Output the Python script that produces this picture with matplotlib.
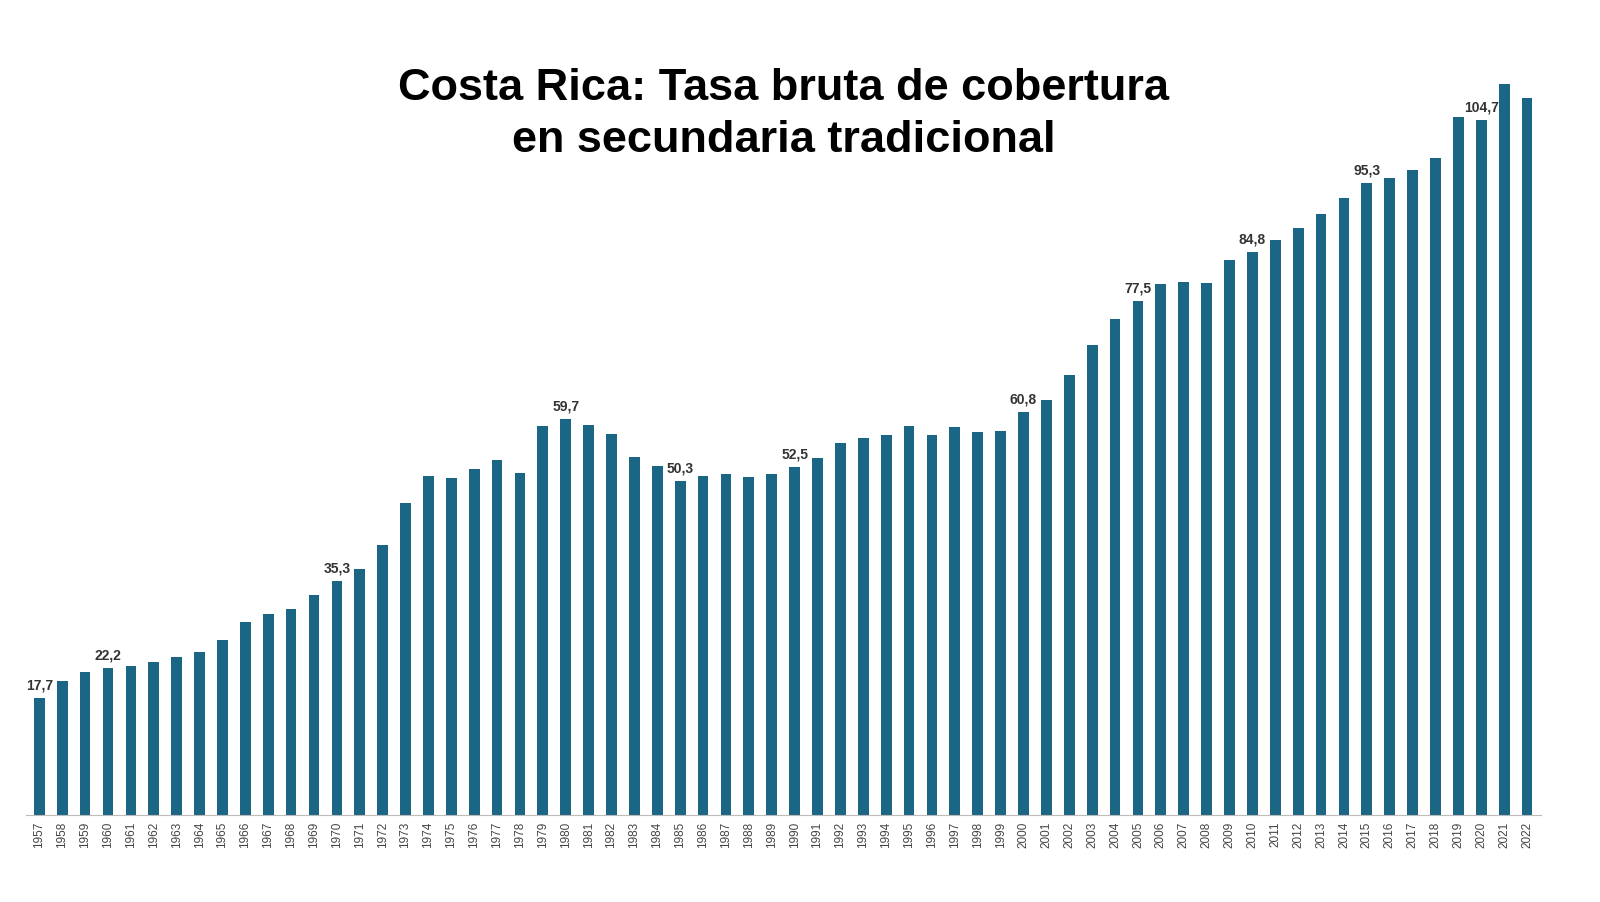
import matplotlib
matplotlib.use("Agg")
import matplotlib.pyplot as plt

years = list(range(1957, 2023))
values = [17.7, 20.2, 21.6, 22.2, 22.5, 23.1, 23.8, 24.6, 26.4, 29.1, 30.3, 31.1, 33.2, 35.3, 37.1, 40.7,
          47.1, 51.1, 50.8, 52.2, 53.5, 51.6, 58.7, 59.7, 58.8, 57.5, 54.0, 52.6, 50.3, 51.1, 51.4, 51.0,
          51.4, 52.5, 53.8, 56.1, 56.9, 57.3, 58.7, 57.3, 58.5, 57.8, 57.9, 60.8, 62.6, 66.4, 70.9, 74.8,
          77.5, 80.0, 80.4, 80.2, 83.6, 84.8, 86.7, 88.5, 90.6, 93.0, 95.3, 96.0, 97.2, 99.0, 105.2, 104.7,
          110.2, 108.0]
labeled = [1957, 1960, 1970, 1980, 1985, 1990, 2000, 2005, 2010, 2015, 2020]
title = "Costa Rica: Tasa bruta de cobertura\nen secundaria tradicional"

plt.rcParams['font.family'] = ['Liberation Sans', 'DejaVu Sans']
fig = plt.figure(figsize=(16, 9.03), dpi=100)
ax = fig.add_axes([0.016, 0.096, 0.947, 0.838])
x = list(range(len(years)))
ax.bar(x, values, width=0.47, color='#1b6585')
for i, (y, v) in enumerate(zip(years, values)):
    if y in labeled:
        ax.text(i, v + 1.0, f"{v:.1f}".replace('.', ','), ha='center', va='bottom',
                fontsize=10, fontweight='bold', color='#333333')
ax.set_xlim(-0.6, len(years) - 0.4)
ax.set_ylim(0, 114)
ax.set_xticks(x)
ax.set_xticklabels([str(y) for y in years], rotation=90, fontsize=8.5, color='#444444')
ax.tick_params(axis='x', length=0, pad=4)
ax.set_yticks([])
for s in ['left', 'right', 'top']:
    ax.spines[s].set_visible(False)
ax.spines['bottom'].set_color('#bbbbbb')
fig.text(0.49, 0.873, title, ha='center', va='center', fontsize=32.5, fontweight='bold',
         linespacing=1.35)
fig.savefig("out.png", dpi=100)
